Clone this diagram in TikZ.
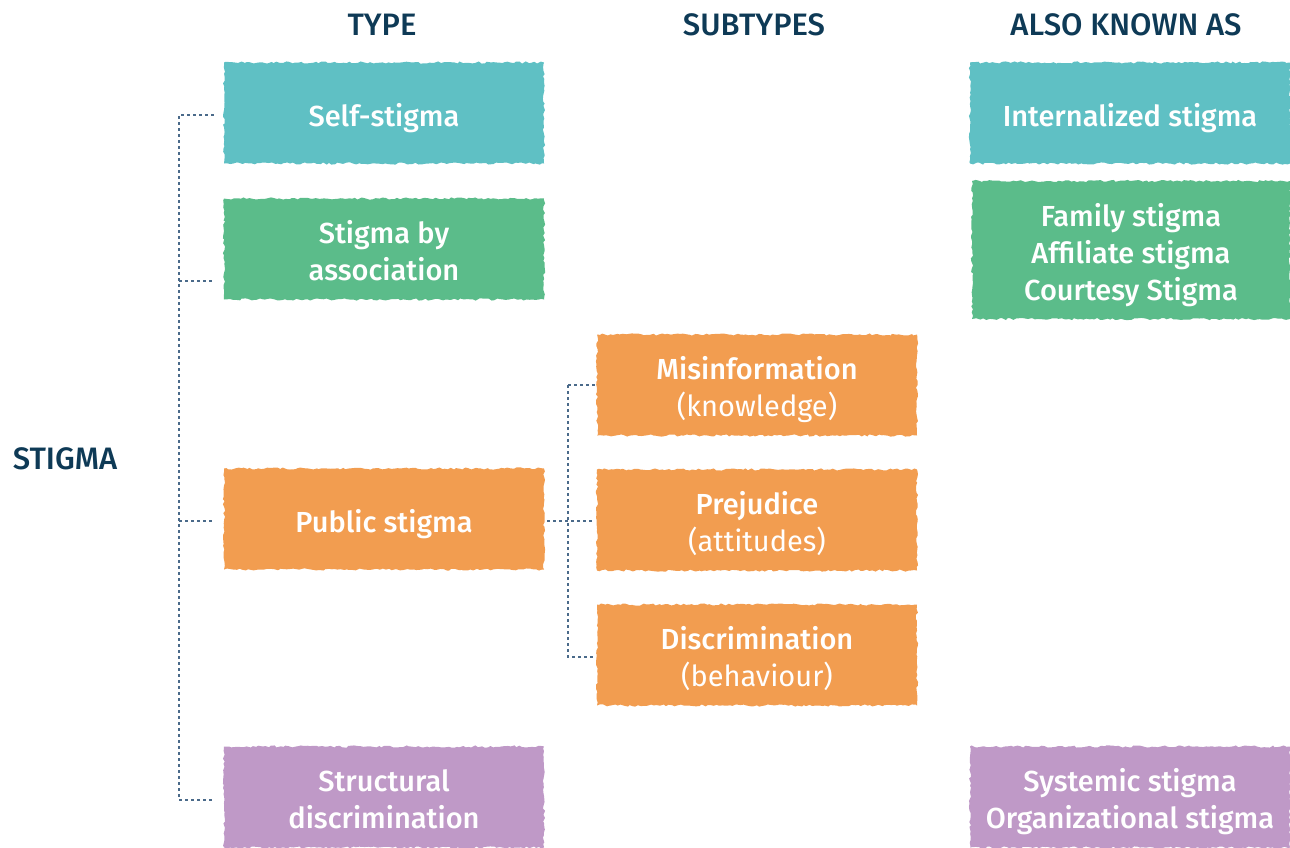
\documentclass[tikz,border=0pt]{standalone}
\usepackage{fontspec}
\setmainfont{Fira Sans}[BoldFont={Fira Sans Medium}]
\usetikzlibrary{decorations.pathmorphing}
\definecolor{cteal}{HTML}{5FC0C4}
\definecolor{cgreen}{HTML}{5BBC8A}
\definecolor{corange}{HTML}{F29D50}
\definecolor{cpurple}{HTML}{BF99C7}
\definecolor{cnavy}{HTML}{0E3A56}
\definecolor{cdot}{HTML}{4A6A8A}
\newcommand\bxt[1]{\raisebox{-6pt}[\height][\depth]{\begin{tabular}{@{}c@{}}#1\end{tabular}}}
\begin{document}
\pgfmathsetseed{7}
\begin{tikzpicture}[x=1pt,y=-1pt,
  box/.style={rectangle, inner sep=0pt, minimum width=320pt, minimum height=101pt,
    decorate, decoration={random steps, segment length=3pt, amplitude=1.1pt},
    text=white, font=\fontsize{29}{37}\selectfont},
  hdr/.style={text=cnavy, font=\bfseries\fontsize{31}{36}\selectfont},
  link/.style={cdot, line width=2.6pt, dash pattern=on 2.6pt off 3.4pt}]
\useasboundingbox (0,0) rectangle (1290,847);
% headers
\node[hdr] (htype) at (382,25) {TYPE};
\node[hdr] (hsub) at (754,25) {SUBTYPES};
\node[hdr] (haka) at (1126,25) {ALSO KNOWN AS};
\node[hdr] (stigma) at (65,459) {STIGMA};
% type boxes
\node[box, fill=cteal] (self) at (384,113) {\bxt{\bfseries Self-stigma}};
\node[box, fill=cgreen] (assoc) at (384,249) {\bxt{\bfseries Stigma by\\\bfseries association}};
\node[box, fill=corange] (public) at (384,519) {\bxt{\bfseries Public stigma}};
\node[box, fill=cpurple] (struct) at (384,797) {\bxt{\bfseries Structural\\\bfseries discrimination}};
% subtype boxes
\node[box, fill=corange] (misinfo) at (757,385) {\bxt{\bfseries Misinformation\\(knowledge)}};
\node[box, fill=corange] (prej) at (757,520) {\bxt{\bfseries Prejudice\\(attitudes)}};
\node[box, fill=corange] (discr) at (757,655) {\bxt{\bfseries Discrimination\\(behaviour)}};
% aka boxes
\node[box, fill=cteal] (intern) at (1130,113) {\bxt{\bfseries Internalized stigma}};
\node[box, fill=cgreen, minimum width=318pt, minimum height=138pt] (family) at (1131,250) {\bxt{\bfseries Family stigma\\\bfseries Affiliate stigma\\\bfseries Courtesy Stigma}};
\node[box, fill=cpurple] (systemic) at (1130,797) {\bxt{\bfseries Systemic stigma\\\bfseries Organizational stigma}};
% connectors
\coordinate (t1) at (179,115);
\coordinate (t2) at (179,281);
\coordinate (t3) at (179,521);
\coordinate (t4) at (179,800);
\draw[link] (self.west |- t1) ++(-10,0) -- (t1) -- (t4) -- ++(34,0);
\draw[link] (t2) -- ++(34,0);
\draw[link] (t3) -- ++(34,0);
\coordinate (s1) at (568,385);
\coordinate (s2) at (568,521);
\coordinate (s3) at (568,657);
\draw[link] (public.east |- s2) ++(3,0) -- (595,521);
\draw[link] (s1) -- ++(27,0);
\draw[link] (s1) -- (s3) -- ++(27,0);
\end{tikzpicture}
\end{document}
